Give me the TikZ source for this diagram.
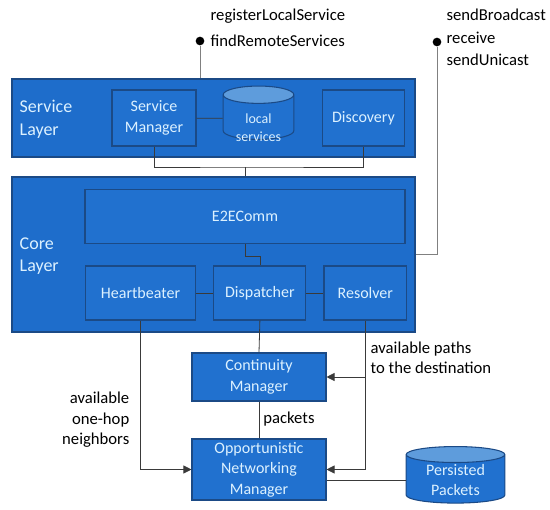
\documentclass[tikz,border=0pt]{standalone}
\usepackage{fontspec}
\setmainfont{Carlito}
\usetikzlibrary{positioning,arrows.meta,fit,shapes.geometric}
\definecolor{ink}{HTML}{3a3a3a}
\definecolor{layerblue}{HTML}{1E6DCB}
\definecolor{boxblue}{HTML}{2171CF}
\definecolor{edge}{HTML}{1B4A86}
\definecolor{label}{HTML}{DCF1FF}
\definecolor{captop}{HTML}{5E9CDC}

\begin{document}
\begin{tikzpicture}[x=0.75pt,y=-0.75pt,
  font=\fontsize{12.5}{15.4}\selectfont,
  layer/.style={draw=edge,fill=layerblue,line width=1pt,inner sep=0pt},
  box/.style={draw=edge,fill=boxblue,line width=0.8pt,text=label,align=center,inner sep=1pt,font=\fontsize{12}{15.4}\selectfont},
  store/.style={cylinder,shape border rotate=90,aspect=0.26,draw=edge,line width=0.8pt,
    cylinder uses custom fill,cylinder body fill=boxblue,cylinder end fill=captop,
    text=label,align=center,inner sep=1pt},
  tag/.style={text=label,align=left,font=\fontsize{13.5}{17}\selectfont},
  note/.style={text=black,inner sep=1pt,text height=8pt,text depth=2.5pt},
  wire/.style={draw=ink,line width=0.6pt},
  pin/.style={circle,fill=black,inner sep=0pt,minimum size=6.5pt},
  >={Triangle[length=6pt,width=6pt]}]
  \useasboundingbox (0,0) rectangle (550,510);
  % layers
  \node[layer,fit={(12,79) (415,157)}] (svc) {};
  \node[layer,fit={(12,177) (415,332)}] (core) {};
  \node[tag,anchor=west] (svctag) at (15,119) {Service\\Layer};
  \node[tag,anchor=west] (coretag) at (15,256) {Core\\Layer};
  % service layer
  \node[box,minimum width=63pt,minimum height=42pt] (sm) at (154,118) {Service\\Manager};
  \node[store,minimum width=53pt,minimum height=40pt,font=\fontsize{10.5}{13.5}\selectfont] (ls) at (258.5,118.5)
    {\raisebox{-10pt}[0pt][0pt]{\parbox{48pt}{\centering local\\services}}};
  \node[box,minimum width=62pt,minimum height=42pt] (disc) at (363.5,118) {Discovery};
  % core layer
  \node[box,minimum width=240pt,minimum height=41pt] (e2e) at (245,216.5) {E2EComm};
  \node[box,minimum width=83pt,minimum height=40.5pt] (hb) at (140.5,293) {Heartbeater};
  \node[box,minimum width=69pt,minimum height=40.5pt,right=12.75pt of hb] (disp) {Dispatcher};
  \node[box,minimum width=62pt,minimum height=40.5pt,right=12.75pt of disp] (res) {Resolver};
  % below the core
  \node[box,minimum width=100.5pt,minimum height=36pt] (cm) at (259,377) {Continuity\\Manager};
  \node[box,minimum width=100.5pt,minimum height=45.75pt] (onm) at (259,469.5) {Opportunistic\\Networking\\Manager};
  \node[store,minimum width=74pt,minimum height=37.5pt,font=\fontsize{12}{15}\selectfont] (pp) at (455.5,480) {Persisted\\Packets};
  % interfaces
  \node[pin] (pinsvc) at (200,41) {};
  \node[pin] (pincore) at (437,42) {};
  \node[note,anchor=west] (reg) at (209,17) {registerLocalService};
  \node[note,anchor=west] (find) at (209,43) {findRemoteServices};
  \node[note,anchor=west] (bcast) at (445,17) {sendBroadcast};
  \node[note,anchor=west] (recv) at (445,40) {receive};
  \node[note,anchor=west] (ucast) at (445,62) {sendUnicast};
  % connectors
  \coordinate (bus) at (245,167);
  \draw[wire] (sm) -- (ls);
  \draw[wire] (sm.south) |- (bus) -| (disc.south);
  \draw[wire] (bus) -- (bus |- core.north);
  \draw[wire] (e2e.south) -- ++(0,12) -| (disp.north);
  \draw[wire] (hb) -- (disp);
  \draw[wire] (disp) -- (res);
  \draw[wire,->] (hb.south) |- (onm.west);
  \draw[wire] (disp.south) -- (cm.north);
  \draw[wire] (cm.south) -- node[note,right=2pt] (pk) {packets} (onm.north);
  \draw[wire,->] (res.south) |- (onm.east);
  \draw[wire,->] (res.south |- cm.east) -- (cm.east);
  \draw[wire] (pp.west) -- (pp.west -| onm.east);
  \draw[wire,gray] (pinsvc) -- (pinsvc |- svc.north);
  \draw[wire,gray] (pincore) |- (core.east);
  \node[anchor=west,align=left] (paths) at (366,358) {available paths\\to the destination};
  \node[anchor=east,align=right] (hop) at (134,420) {available\\one-hop\\neighbors};
\end{tikzpicture}
\end{document}
